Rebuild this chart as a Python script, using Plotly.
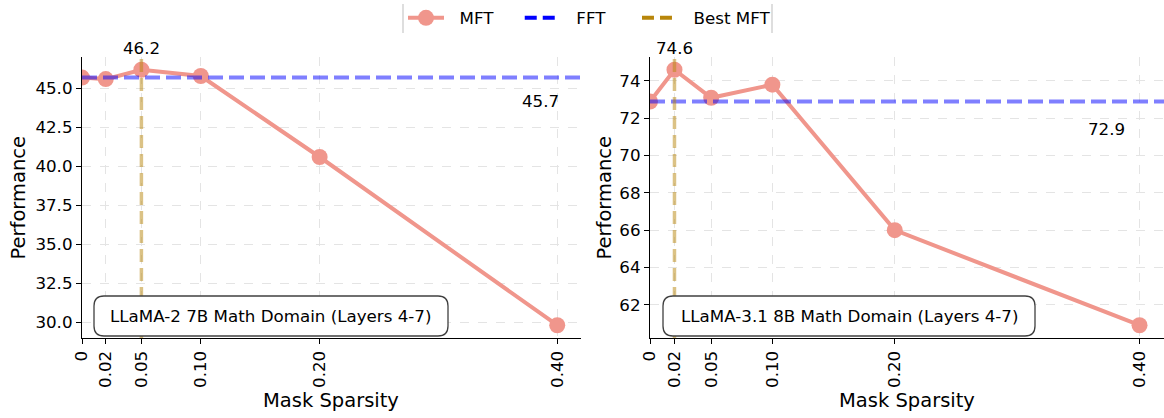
import plotly.graph_objects as go

# ---------------- data ----------------
sparsity = [0, 0.02, 0.05, 0.10, 0.20, 0.40]
tick_labels = ["0", "0.02", "0.05", "0.10", "0.20", "0.40"]

llama2_mft = [45.7, 45.6, 46.2, 45.8, 40.6, 29.8]
llama2_fft = 45.7
llama31_mft = [72.9, 74.6, 73.1, 73.8, 66.0, 60.9]
llama31_fft = 72.9

panel_titles = ["LLaMA-2 7B Math Domain (Layers 4-7)",
                "LLaMA-3.1 8B Math Domain (Layers 4-7)"]

# ---------------- styling ----------------
W, H = 1164, 418
FONT = "DejaVu Sans"
FS = 16.7          # 12pt
FS_LABEL = 19.5    # 14pt
MFT_COLOR = "#F0968C"
FFT_COLOR = "rgba(0,0,255,0.5)"
BEST_COLOR = "rgba(184,134,11,0.5)"
NBSP = "\u00a0"
LEAD = NBSP * 2


def px2x(px):
    return px / W


def px2y(py):
    return 1 - py / H


panels = [
    dict(x0=82, x1=581, y0=57, y1=338, dtick=2.5, fmt=".1f",
         fft_lab_x=0.386, box=(94, 296, 448, 336), ytitle_x=18, xtitle_x=331),
    dict(x0=650, x1=1164, y0=57, y1=338, dtick=2, fmt="d",
         fft_lab_x=0.373, box=(663, 296, 1035, 336), ytitle_x=604, xtitle_x=907),
]
series = [(llama2_mft, llama2_fft), (llama31_mft, llama31_fft)]

fig = go.Figure()
layout = dict(
    width=W, height=H, autosize=False,
    margin=dict(l=0, r=0, t=0, b=0, pad=0, autoexpand=False),
    paper_bgcolor="white", plot_bgcolor="white",
    font=dict(family=FONT, size=FS, color="black"),
    showlegend=True,
    legend=dict(orientation="h", xref="container", yref="container",
                x=589.5 / W, xanchor="center", y=1 - 18 / H, yanchor="middle",
                font=dict(size=FS, family=FONT), bgcolor="rgba(0,0,0,0)",
                itemwidth=36, tracegroupgap=0),
)
shapes = []
annotations = []

for i, (p, (mft, fft)) in enumerate(zip(panels, series)):
    xa = "x" if i == 0 else "x2"
    ya = "y" if i == 0 else "y2"
    xkey = "xaxis" if i == 0 else "xaxis2"
    ykey = "yaxis" if i == 0 else "yaxis2"

    lo, hi = min(mft), max(mft)
    pad = 0.05 * (hi - lo)
    yr = [lo - pad, hi + pad]

    common = dict(ticks="outside", ticklen=5, tickwidth=1.2, tickcolor="black",
                  showline=True, linecolor="black", linewidth=1.2,
                  showgrid=True, gridcolor="#e4e4e4", griddash="dash", gridwidth=1,
                  zeroline=False, automargin=False,
                  tickfont=dict(size=FS, family=FONT, color="black"))
    layout[xkey] = dict(
        domain=[px2x(p["x0"]), min(1.0, px2x(p["x1"]))], anchor=ya,
        range=[0, 0.42], tickmode="array", tickvals=sparsity, ticktext=tick_labels,
        tickangle=-90, **common,
    )
    layout[ykey] = dict(
        domain=[px2y(p["y1"]), px2y(p["y0"])], anchor=xa,
        range=yr, dtick=p["dtick"], tick0=0, tickformat=p["fmt"], **common,
    )

    fig.add_trace(go.Scatter(
        x=sparsity, y=mft, mode="lines+markers", name=LEAD + "MFT" + NBSP * 4,
        line=dict(color=MFT_COLOR, width=4), marker=dict(size=16, color=MFT_COLOR),
        xaxis=xa, yaxis=ya, showlegend=(i == 0),
    ))

    best_idx = mft.index(max(mft))
    best_x = sparsity[best_idx]
    best_y = mft[best_idx]

    shapes.append(dict(type="line", xref=f"{xa} domain", yref=ya, x0=0, x1=1, y0=fft, y1=fft,
                       line=dict(color=FFT_COLOR, width=4, dash="15px,6px"), layer="above"))
    shapes.append(dict(type="line", xref=xa, yref=f"{ya} domain", x0=best_x, x1=best_x, y0=0, y1=1,
                       line=dict(color=BEST_COLOR, width=3.5, dash="13px,6px"), layer="above"))

    annotations.append(dict(x=best_x, y=best_y, xref=xa, yref=ya, text=f"{best_y:.1f}",
                            showarrow=False, yshift=22, font=dict(size=FS, family=FONT)))
    annotations.append(dict(x=p["fft_lab_x"], y=fft - 1.5, xref=xa, yref=ya, text=f"{fft:.1f}",
                            showarrow=False, font=dict(size=FS, family=FONT)))

    bx0, by0, bx1, by1 = p["box"]
    r = 10
    path = (f"M {px2x(bx0 + r)},{px2y(by0)} L {px2x(bx1 - r)},{px2y(by0)} "
            f"Q {px2x(bx1)},{px2y(by0)} {px2x(bx1)},{px2y(by0 + r)} "
            f"L {px2x(bx1)},{px2y(by1 - r)} Q {px2x(bx1)},{px2y(by1)} {px2x(bx1 - r)},{px2y(by1)} "
            f"L {px2x(bx0 + r)},{px2y(by1)} Q {px2x(bx0)},{px2y(by1)} {px2x(bx0)},{px2y(by1 - r)} "
            f"L {px2x(bx0)},{px2y(by0 + r)} Q {px2x(bx0)},{px2y(by0)} {px2x(bx0 + r)},{px2y(by0)} Z")
    shapes.append(dict(type="path", xref="paper", yref="paper", path=path,
                       fillcolor="white", line=dict(color="#404040", width=1.3), layer="above"))
    annotations.append(dict(x=px2x((bx0 + bx1) / 2), y=px2y((by0 + by1) / 2), xref="paper", yref="paper",
                            text=panel_titles[i], showarrow=False, xanchor="center", yanchor="middle",
                            font=dict(size=FS, family=FONT)))

    annotations.append(dict(x=px2x(p["ytitle_x"]), y=px2y((p["y0"] + p["y1"]) / 2), xref="paper", yref="paper",
                            text="Performance", textangle=-90, showarrow=False,
                            xanchor="center", yanchor="middle", font=dict(size=FS_LABEL, family=FONT)))
    annotations.append(dict(x=px2x(p["xtitle_x"]), y=px2y(400), xref="paper", yref="paper",
                            text="Mask Sparsity", showarrow=False,
                            xanchor="center", yanchor="middle", font=dict(size=FS_LABEL, family=FONT)))

fig.add_trace(go.Scatter(x=[None], y=[None], mode="lines", name=LEAD + "FFT" + NBSP * 5,
                         line=dict(color="blue", width=4, dash="12px,6px")))
fig.add_trace(go.Scatter(x=[None], y=[None], mode="lines", name=LEAD + "Best MFT",
                         line=dict(color="#B8860B", width=4, dash="12px,6px")))

for xp in (403, 772):
    shapes.append(dict(type="line", xref="paper", yref="paper", x0=px2x(xp), x1=px2x(xp),
                       y0=px2y(4), y1=px2y(33), line=dict(color="#c8c8c8", width=1.2),
                       layer="above"))

layout["shapes"] = shapes
layout["annotations"] = annotations
fig.update_layout(**layout)
fig.write_html("out.html")
